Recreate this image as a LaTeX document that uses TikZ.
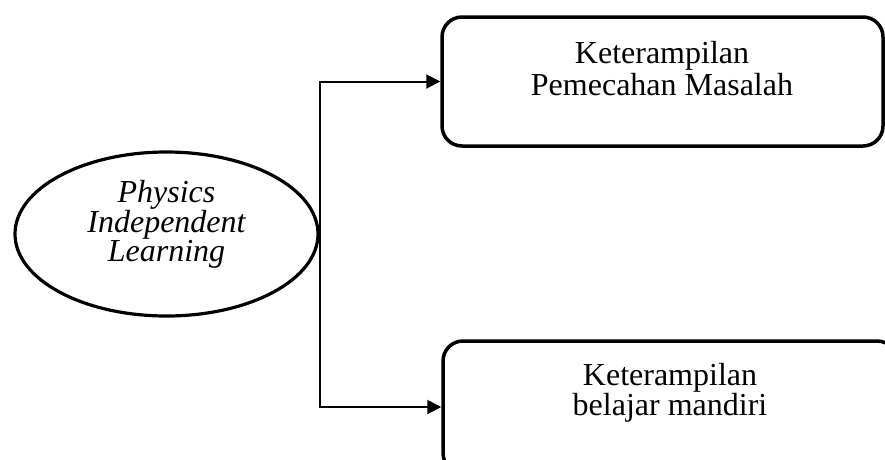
\documentclass[tikz,border=0pt]{standalone}
\usepackage{fontspec}
\setmainfont{Liberation Serif}
\usetikzlibrary{arrows.meta,shapes.geometric}
\begin{document}
\begin{tikzpicture}[x=1pt,y=-1pt,
  boxshape/.style={draw,line width=3.5pt,rounded corners=20pt,rectangle,inner sep=0pt},
  ovalshape/.style={draw,line width=3.2pt,ellipse,inner sep=0pt,minimum width=303pt,minimum height=164pt},
  boxtext/.style={align=center,inner sep=0pt,font=\fontsize{32}{32}\selectfont},
  conn/.style={line width=2pt,-{Triangle[length=14pt,width=14pt]}}]
\useasboundingbox (0,0) rectangle (885,459);
\clip (0,0) rectangle (885,459);
\node[ovalshape] (e) at (166.5,234) {};
\node[align=center,inner sep=0pt,font=\itshape\fontsize{32}{27}\selectfont] (et) at (166.5,224.6) {Physics\\Independent\\Learning};
\node[boxshape,minimum width=441pt,minimum height=129pt] (a) at (662.5,81.5) {};
\node[boxtext] (at) at (662,69) {Keterampilan\\Pemecahan Masalah};
\node[boxshape,minimum width=454pt,minimum height=132pt] (b) at (670,407) {};
\node[boxtext,font=\fontsize{32}{30}\selectfont] (bt) at (670,393) {Keterampilan\\belajar mandiri};
\draw[conn] (e.east) |- (a.west);
\draw[conn] (e.east) |- (b.west);
\end{tikzpicture}
\end{document}
